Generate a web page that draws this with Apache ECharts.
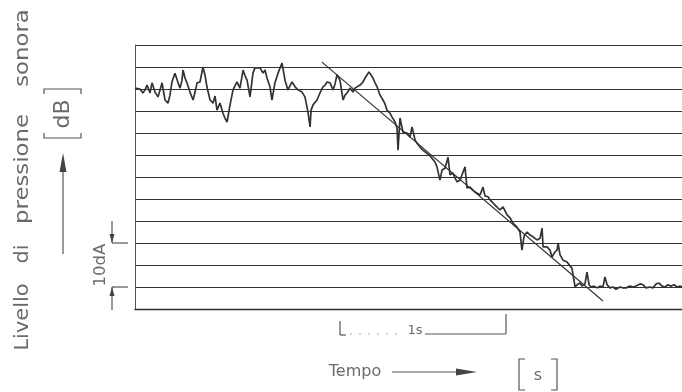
<!DOCTYPE html>
<html>
<head>
<meta charset="utf-8">
<script src="https://cdn.jsdelivr.net/npm/echarts@6/dist/echarts.min.js"></script>
<style>
  html, body { margin: 0; padding: 0; background: #fff; }
  #chart { width: 682px; height: 392px; }
</style>
</head>
<body>
<div id="chart"></div>
<script>
var times = [
  0.000, 0.012, 0.030, 0.048, 0.061, 0.073, 0.091, 0.103, 0.121, 0.139,
  0.152, 0.164, 0.182, 0.200, 0.212, 0.224, 0.242, 0.261, 0.273, 0.285,
  0.291, 0.303, 0.315, 0.333, 0.352, 0.364, 0.376, 0.394, 0.412, 0.424,
  0.436, 0.455, 0.473, 0.485, 0.497, 0.515, 0.533, 0.545, 0.558, 0.576,
  0.594, 0.606, 0.618, 0.636, 0.655, 0.667, 0.679, 0.697, 0.715, 0.727,
  0.739, 0.758, 0.776, 0.788, 0.800, 0.818, 0.830, 0.848, 0.867, 0.879,
  0.891, 0.909, 0.927, 0.939, 0.952, 0.970, 0.988, 1.000, 1.012, 1.030,
  1.048, 1.061, 1.067, 1.079, 1.091, 1.103, 1.121, 1.139, 1.152, 1.164,
  1.182, 1.200, 1.212, 1.224, 1.242, 1.261, 1.273, 1.285, 1.303, 1.321,
  1.333, 1.345, 1.364, 1.382, 1.394, 1.406, 1.418, 1.430, 1.442, 1.455,
  1.467, 1.485, 1.503, 1.515, 1.527, 1.545, 1.558, 1.576, 1.588, 1.594,
  1.606, 1.624, 1.636, 1.648, 1.667, 1.679, 1.697, 1.709, 1.727, 1.745,
  1.758, 1.770, 1.788, 1.800, 1.818, 1.830, 1.848, 1.861, 1.879, 1.897,
  1.909, 1.927, 1.939, 1.952, 1.970, 1.982, 2.000, 2.012, 2.030, 2.048,
  2.061, 2.073, 2.091, 2.109, 2.121, 2.139, 2.152, 2.170, 2.182, 2.194,
  2.212, 2.230, 2.242, 2.255, 2.273, 2.291, 2.303, 2.315, 2.333, 2.345,
  2.358, 2.376, 2.394, 2.412, 2.424, 2.436, 2.455, 2.467, 2.473, 2.485,
  2.497, 2.515, 2.527, 2.545, 2.558, 2.564, 2.576, 2.594, 2.606, 2.618,
  2.636, 2.648, 2.667, 2.679, 2.697, 2.709, 2.727, 2.739, 2.752, 2.764,
  2.782, 2.800, 2.818, 2.836, 2.848, 2.861, 2.879, 2.897, 2.915, 2.939,
  2.958, 2.976, 3.000, 3.018, 3.036, 3.061, 3.079, 3.097, 3.121, 3.139,
  3.158, 3.176, 3.194, 3.212, 3.230, 3.248, 3.267, 3.285, 3.303, 3.315
];
var levels = [
  50.2, 50.5, 50.0, 49.1, 49.8, 50.9, 49.1, 51.4, 49.3, 48.2,
  49.8, 51.4, 47.5, 46.8, 48.6, 51.6, 53.6, 51.4, 50.2, 52.0,
  54.3, 52.5, 51.4, 49.3, 47.5, 49.3, 51.4, 51.6, 55.0, 53.2,
  50.5, 47.5, 46.8, 48.4, 45.2, 46.8, 44.5, 43.4, 42.5, 46.4,
  49.8, 50.7, 51.6, 50.2, 54.3, 53.0, 52.0, 48.2, 53.6, 54.8,
  55.0, 54.8, 53.6, 54.3, 52.5, 50.5, 47.5, 51.4, 53.6, 54.8,
  55.9, 52.0, 49.8, 50.7, 51.6, 50.5, 49.8, 50.2, 49.3, 48.2,
  44.8, 41.4, 45.2, 46.4, 46.8, 47.5, 49.1, 50.5, 50.9, 51.6,
  51.4, 49.8, 51.1, 53.2, 52.0, 47.5, 48.6, 49.1, 50.2, 49.3,
  50.2, 49.8, 50.9, 51.6, 52.5, 53.2, 53.9, 53.6, 52.5, 51.4,
  50.5, 48.6, 47.5, 46.6, 45.2, 44.5, 43.6, 42.5, 41.1, 36.1,
  43.4, 40.2, 39.8, 40.0, 39.1, 41.4, 38.4, 37.7, 36.8, 36.1,
  35.7, 35.5, 34.8, 34.5, 33.4, 32.3, 29.3, 31.6, 32.0, 34.5,
  30.5, 30.9, 29.8, 28.9, 29.3, 30.5, 32.3, 27.5, 27.7, 27.0,
  26.6, 27.0, 25.9, 27.7, 25.7, 25.5, 24.8, 24.1, 23.6, 23.9,
  22.5, 23.2, 23.6, 21.4, 20.7, 19.5, 19.1, 18.6, 17.5, 13.4,
  16.6, 17.5, 16.8, 16.4, 16.6, 15.7, 16.1, 18.4, 14.1, 13.9,
  14.1, 13.4, 11.8, 13.0, 13.4, 15.0, 12.3, 11.1, 10.7, 10.7,
  9.8, 9.3, 5.0, 5.5, 5.9, 5.2, 5.7, 8.4, 5.5, 5.0,
  5.2, 4.8, 5.2, 5.0, 7.3, 5.5, 4.8, 5.0, 4.5, 5.0,
  4.8, 4.8, 5.2, 5.0, 5.2, 5.7, 5.5, 4.8, 5.0, 4.8,
  5.7, 5.9, 5.2, 5.0, 5.5, 5.2, 5.5, 5.0, 5.2, 5.0
];
// retta di regressione del decadimento
var fitTimes = [1.133, 2.836];
var fitLevels = [56.1, 1.8];

var traceData = times.map(function (t, i) { return [t, levels[i]]; });
var fitData = fitTimes.map(function (t, i) { return [t, fitLevels[i]]; });

var ink = '#2b2b2b';
var txt = '#6a6a6a';
var font = 'DejaVu Sans';

function label(text, x, y, size, rot, sx) {
  return {
    type: 'text', x: x, y: y, rotation: rot || 0, scaleX: sx || 1,
    style: { text: text, fill: txt, fontSize: size, fontFamily: font, align: 'center', verticalAlign: 'middle' }
  };
}
function seg(x1, y1, x2, y2, w, dash, col) {
  return {
    type: 'line', shape: { x1: x1, y1: y1, x2: x2, y2: y2 },
    style: { stroke: col || '#555', lineWidth: w || 1.2, lineDash: dash || null }
  };
}
function poly(points, closed) {
  return {
    type: closed ? 'polygon' : 'polyline', shape: { points: points },
    style: closed ? { fill: '#444' } : { stroke: '#555', lineWidth: 1.2, fill: null }
  };
}

var R = Math.PI / 2;

var chart = echarts.init(document.getElementById('chart'));
var option = {
  backgroundColor: '#fff',
  animation: false,
  grid: { left: 135, right: 0, top: 45, bottom: 83 },
  xAxis: {
    type: 'value', min: 0, max: 3.315,
    axisLine: { show: true, onZero: false, lineStyle: { color: ink, width: 1.3 } },
    axisTick: { show: false }, axisLabel: { show: false }, splitLine: { show: false }
  },
  yAxis: {
    type: 'value', min: 0, max: 60, interval: 5,
    axisLine: { show: true, lineStyle: { color: '#555', width: 1 } },
    axisTick: { show: false }, axisLabel: { show: false },
    splitLine: { show: true, lineStyle: { color: '#333', width: 1.2 } }
  },
  series: [
    {
      type: 'line', data: traceData, symbol: 'none', z: 3,
      lineStyle: { color: '#333', width: 1.7 }
    },
    {
      type: 'line', data: fitData, symbol: 'none', z: 4,
      lineStyle: { color: '#333', width: 1.2 }
    }
  ],
  graphic: [
    // etichetta asse verticale
    label('Livello', 23, 317, 19, R, 1.1),
    label('di', 23, 254, 19, R, 1.1),
    label('pressione', 23, 169, 19, R, 1.2),
    label('sonora', 23, 48, 19, R, 1.2),
    label('dB', 63, 114, 22, R, 1),
    poly([[44, 94], [44, 89], [81, 89], [81, 94]]),
    poly([[44, 133], [44, 138], [81, 138], [81, 133]]),
    seg(63, 170, 63, 254),
    poly([[63, 153], [59.5, 172], [66.5, 172]], true),
    // scala 10 dB
    label('10dA', 101, 265, 15, R, 1.1),
    seg(112, 221, 112, 243), seg(112, 243, 128, 243),
    poly([[112, 243], [109.5, 234], [114.5, 234]], true),
    seg(112, 287, 112, 310), seg(112, 287, 128, 287),
    poly([[112, 287], [109.5, 296], [114.5, 296]], true),
    // scala 1 s
    seg(340, 321, 340, 335), seg(340, 335, 346, 335),
    seg(350, 334, 400, 334, 1, [2, 7], '#aaa'),
    label('1s', 415, 331, 13),
    seg(425, 334, 506, 334), seg(506, 314, 506, 334),
    // etichetta asse orizzontale
    label('Tempo', 355, 372, 16),
    seg(392, 372, 460, 372),
    poly([[477, 372], [456, 368.5], [456, 375.5]], true),
    poly([[525, 359], [519, 359], [519, 390], [525, 390]]),
    label('s', 538, 376, 16),
    poly([[551, 359], [557, 359], [557, 390], [551, 390]])
  ]
};
chart.setOption(option);

window.addEventListener('resize', function () {
  chart.resize();
});
</script>
</body>
</html>
